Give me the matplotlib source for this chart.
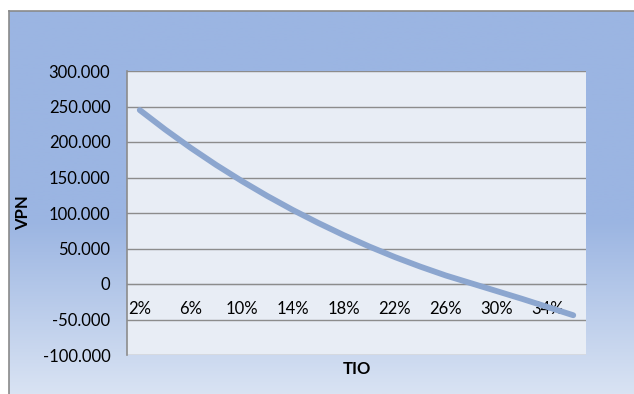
import numpy as np
import matplotlib.pyplot as plt
from matplotlib.colors import LinearSegmentedColormap
from matplotlib.lines import Line2D
from matplotlib.ticker import FuncFormatter

# TIO (discount rate) categories and the net present value at each rate
tio = [2, 4, 6, 8, 10, 12, 14, 16, 18, 20, 22, 24, 26, 28, 30, 32, 34, 36]
vpn = [245000, 217500, 191700, 167600, 145100, 124000, 104300, 86000, 68800,
       52800, 38000, 24500, 12000, 1000, -10000, -21000, -32500, -44000]
y_ticks = [-100000, -50000, 0, 50000, 100000, 150000, 200000, 250000, 300000]

W, H = 634, 394
fig = plt.figure(figsize=(W / 100, H / 100), dpi=100)
fig.patch.set_facecolor("white")

# chart area: blue gradient fading towards the bottom
bg = fig.add_axes([9 / W, 0, 1 - 9 / W, (H - 11) / H], zorder=0)
cmap = LinearSegmentedColormap.from_list(
    "chartbg", [(0.0, "#9bb5e2"), (0.55, "#9bb5e2"), (1.0, "#d9e3f3")])
grad = np.linspace(0, 1, 256).reshape(-1, 1)
bg.imshow(grad, aspect="auto", cmap=cmap, extent=[0, 1, 1, 0])
bg.set_axis_off()
fig.add_artist(Line2D([9 / W, 9 / W], [0, 1 - 11 / H], color="#8a8a8a", lw=1.2,
                      transform=fig.transFigure))
fig.add_artist(Line2D([9 / W, 1], [1 - 11 / H, 1 - 11 / H], color="#8a8a8a", lw=1.2,
                      transform=fig.transFigure))

ax = fig.add_axes([127 / W, 1 - 355 / H, (586 - 127) / W, (355 - 71) / H], zorder=1)
ax.set_facecolor("#e8edf5")

x = np.arange(len(tio))
ax.plot(x, vpn, color="#8ca6cf", lw=4.2, solid_capstyle="round", zorder=3)

ax.set_xlim(-0.5, len(tio) - 0.5)
ax.set_ylim(-100000, 300000)
ax.set_yticks(y_ticks)
ax.yaxis.set_major_formatter(FuncFormatter(lambda v, _: f"{v:,.0f}".replace(",", ".")))
ax.grid(axis="y", color="#8c8c8c", lw=1.0)
ax.set_axisbelow(True)

# category labels every second rate, sitting under the zero line
ax.set_xticks(x[::2])
ax.set_xticklabels([f"{t}%" for t in tio[::2]])
ax.spines["bottom"].set_position(("data", 0))
ax.spines["bottom"].set_color("#8c8c8c")
ax.spines["left"].set_color("#8c8c8c")
ax.spines["left"].set_linewidth(1.2)
ax.spines["top"].set_visible(False)
ax.spines["right"].set_visible(False)

font = "Lato"
ax.tick_params(axis="x", length=0, pad=12, labelsize=12, labelcolor="black")
ax.tick_params(axis="y", length=0, pad=12, labelsize=12, labelcolor="black")
for lbl in ax.get_xticklabels() + ax.get_yticklabels():
    lbl.set_fontfamily(font)

fig.text(23 / W, 1 - 213 / H, "VPN", rotation=90, ha="center", va="center",
         fontsize=12, fontweight="bold", family=font)
fig.text(356.5 / W, 1 - 369 / H, "TIO", ha="center", va="center",
         fontsize=12, fontweight="bold", family=font)

fig.savefig("out.png", dpi=100)
